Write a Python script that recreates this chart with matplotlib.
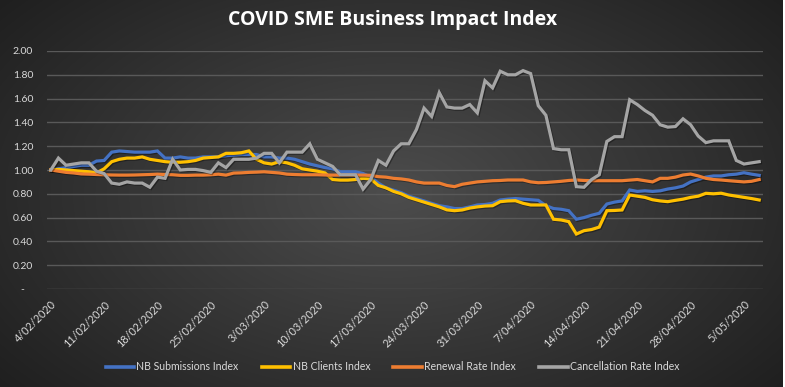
import numpy as np
import pandas as pd
import matplotlib
matplotlib.use("Agg")
import matplotlib.pyplot as plt
import matplotlib.patheffects as pe

plt.rcParams['font.family'] = ['Lato', 'DejaVu Sans']

# ---- data ----
dates = pd.date_range("2020-02-04", "2020-05-07", freq="D")

nb_submissions = [
    1.00, 1.01, 1.02, 1.03, 1.04, 1.04, 1.075, 1.08, 1.15, 1.16,
    1.155, 1.15, 1.15, 1.15, 1.16, 1.10, 1.10, 1.11, 1.10, 1.10,
    1.11, 1.11, 1.11, 1.12, 1.125, 1.13, 1.13, 1.13, 1.11, 1.11,
    1.10, 1.10, 1.09, 1.07, 1.05, 1.035, 1.02, 1.01, 0.985, 0.985,
    0.985, 0.97, 0.94, 0.89, 0.85, 0.83, 0.81, 0.78, 0.76, 0.74,
    0.72, 0.70, 0.69, 0.676, 0.676, 0.69, 0.706, 0.71, 0.72, 0.748,
    0.755, 0.76, 0.755, 0.75, 0.745, 0.70, 0.676, 0.67, 0.658, 0.586,
    0.60, 0.62, 0.636, 0.714, 0.73, 0.74, 0.832, 0.82, 0.825, 0.82,
    0.825, 0.84, 0.85, 0.865, 0.90, 0.92, 0.94, 0.95, 0.95, 0.96,
    0.965, 0.977, 0.965, 0.955,
]

nb_clients = [
    1.00, 1.005, 1.00, 0.995, 0.99, 0.985, 0.975, 1.01, 1.07, 1.09,
    1.10, 1.10, 1.11, 1.09, 1.08, 1.07, 1.065, 1.065, 1.07, 1.08,
    1.10, 1.105, 1.11, 1.14, 1.14, 1.145, 1.16, 1.09, 1.06, 1.05,
    1.07, 1.06, 1.04, 1.01, 1.00, 0.99, 0.975, 0.92, 0.915, 0.915,
    0.92, 0.93, 0.925, 0.87, 0.85, 0.82, 0.80, 0.77, 0.75, 0.73,
    0.71, 0.69, 0.665, 0.658, 0.664, 0.68, 0.69, 0.697, 0.70, 0.734,
    0.74, 0.742, 0.72, 0.706, 0.706, 0.706, 0.586, 0.58, 0.566, 0.462,
    0.49, 0.50, 0.52, 0.658, 0.66, 0.664, 0.79, 0.78, 0.77, 0.75,
    0.74, 0.734, 0.745, 0.755, 0.77, 0.78, 0.804, 0.80, 0.805, 0.79,
    0.78, 0.77, 0.76, 0.748,
]

renewal_rate = [
    1.00, 0.99, 0.98, 0.975, 0.967, 0.965, 0.962, 0.96, 0.958, 0.957,
    0.957, 0.958, 0.96, 0.962, 0.965, 0.962, 0.96, 0.955, 0.955, 0.957,
    0.957, 0.96, 0.965, 0.957, 0.974, 0.976, 0.98, 0.982, 0.985, 0.98,
    0.975, 0.965, 0.962, 0.96, 0.96, 0.96, 0.958, 0.957, 0.957, 0.957,
    0.957, 0.957, 0.955, 0.944, 0.94, 0.93, 0.925, 0.916, 0.90, 0.89,
    0.89, 0.89, 0.87, 0.86, 0.88, 0.89, 0.90, 0.905, 0.91, 0.912,
    0.916, 0.916, 0.916, 0.90, 0.893, 0.895, 0.90, 0.905, 0.912, 0.916,
    0.912, 0.91, 0.91, 0.91, 0.91, 0.91, 0.915, 0.92, 0.91, 0.90,
    0.93, 0.93, 0.94, 0.958, 0.966, 0.95, 0.93, 0.92, 0.916, 0.91,
    0.905, 0.90, 0.905, 0.92,
]

cancellation_rate = [
    1.00, 1.10, 1.04, 1.05, 1.06, 1.06, 0.99, 0.97, 0.89, 0.88,
    0.90, 0.89, 0.89, 0.855, 0.94, 0.93, 1.09, 1.00, 1.005, 1.005,
    0.995, 0.98, 1.06, 1.02, 1.09, 1.09, 1.09, 1.10, 1.14, 1.14,
    1.06, 1.15, 1.15, 1.15, 1.22, 1.09, 1.06, 1.03, 0.96, 0.96,
    0.96, 0.84, 0.92, 1.08, 1.04, 1.16, 1.22, 1.22, 1.34, 1.52,
    1.45, 1.65, 1.53, 1.52, 1.52, 1.55, 1.48, 1.75, 1.69, 1.83,
    1.80, 1.80, 1.835, 1.81, 1.54, 1.46, 1.18, 1.17, 1.17, 0.86,
    0.855, 0.92, 0.96, 1.24, 1.28, 1.28, 1.59, 1.55, 1.50, 1.46,
    1.38, 1.36, 1.365, 1.43, 1.38, 1.285, 1.23, 1.245, 1.245, 1.245,
    1.08, 1.05, 1.06, 1.07,
]

series_names = ["NB Submissions Index", "NB Clients Index",
                "Renewal Rate Index", "Cancellation Rate Index"]
series_colors = ["#4472C4", "#FFC000", "#ED7D31", "#A5A5A5"]
y_ticks = [0.0, 0.2, 0.4, 0.6, 0.8, 1.0, 1.2, 1.4, 1.6, 1.8, 2.0]
y_tick_labels = ["-   ", "0.20", "0.40", "0.60", "0.80", "1.00",
                 "1.20", "1.40", "1.60", "1.80", "2.00"]
title = "COVID SME Business Impact Index"

# ---- figure ----
W, H = 785, 387
fig = plt.figure(figsize=(W / 100, H / 100), dpi=100)

# radial gradient background
bg = fig.add_axes([0, 0, 1, 1], zorder=-10)
yy, xx = np.mgrid[0:H, 0:W]
r = np.sqrt(((xx - W * 0.5) / (W * 0.62)) ** 2 + ((yy - H * 0.5) / (H * 0.75)) ** 2)
shade = 0.30 - 0.17 * np.clip(r, 0, 1.2)
img = np.dstack([shade, shade, shade])
img[:, W - 2:, :] = 1.0
bg.imshow(img, aspect="auto", extent=[0, 1, 0, 1], interpolation="bilinear")
bg.set_axis_off()

left, right = 47 / W, 763 / W
bottom, top = 1 - 289 / H, 1 - 51 / H
ax = fig.add_axes([left, bottom, right - left, top - bottom])
ax.set_facecolor("none")

x = np.arange(len(dates))
data = [nb_submissions, nb_clients, renewal_rate, cancellation_rate]
for vals, name, col in zip(data, series_names, series_colors):
    ax.plot(x, vals, color=col, lw=2.3, label=name, solid_joinstyle="miter",
            path_effects=[pe.SimpleLineShadow(offset=(0.8, -0.8), alpha=0.35, shadow_color="black"),
                          pe.Normal()])

ax.set_xlim(-0.5, len(dates) - 0.5)
ax.set_ylim(0, 2.0)
ax.set_yticks(y_ticks)
ax.set_yticklabels(y_tick_labels)
ax.yaxis.grid(True, color="#595959", lw=1.0)
ax.set_axisbelow(True)
for s in ax.spines.values():
    s.set_visible(False)

tick_idx = x[::7]
ax.set_xticks(tick_idx)
ax.set_xticklabels([f"{d.day}/{d.month:02d}/{d.year}" for d in dates[::7]],
                   rotation=45, ha="right", va="top", rotation_mode="anchor")
ax.tick_params(axis="both", length=0, colors="#d9d9d9", labelsize=7.5)
ax.tick_params(axis="x", labelsize=7.8)
ax.tick_params(axis="y", pad=10)
ax.tick_params(axis="x", pad=7)

fig.text(0.5, 1 - 20 / H, title, ha="center", va="center", color="white",
         fontsize=14, fontweight="bold", family=["Open Sans", "DejaVu Sans"])

leg = fig.legend(loc="center", bbox_to_anchor=(0.5, 1 - 367 / H), ncol=4,
                 frameon=False, fontsize=7.6, handlelength=2.7, handletextpad=0.2,
                 columnspacing=2.2, labelcolor="#d9d9d9")
for line in leg.get_lines():
    line.set_linewidth(2.6)
    line.set_path_effects([])

fig.savefig("out.png", dpi=100)
